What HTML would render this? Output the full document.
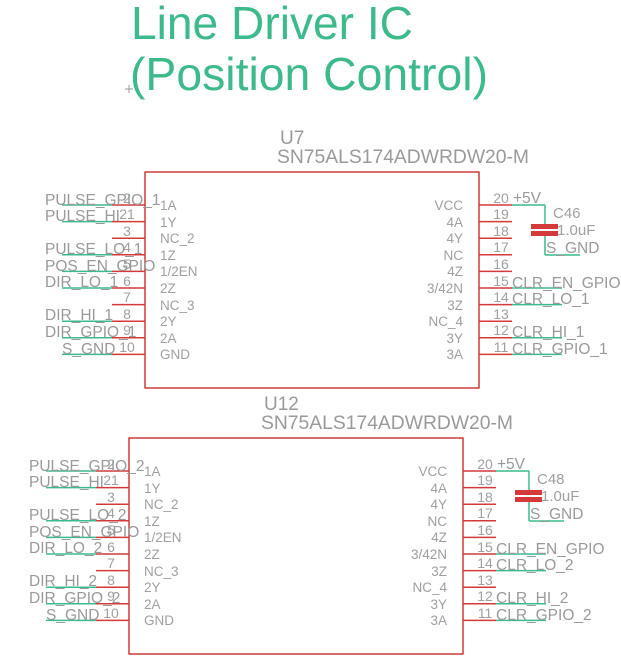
<!DOCTYPE html>
<html><head><meta charset="utf-8"><style>
html,body{margin:0;padding:0;background:#fff;}
svg{display:block;font-family:"Liberation Sans",sans-serif;}
.t{fill:#3dba8b;font-size:46px;}
.r{stroke:#d43a3a;stroke-width:1.5;fill:none;}
.n{stroke:#3dba8b;stroke-width:1.5;}
.pn{font-size:13.5px;fill:#a0a0a0;}
.num{font-size:14px;fill:#a0a0a0;}
.lb{font-size:15.5px;fill:#9a9a9a;}
.big{font-size:19px;fill:#9a9a9a;}
.cl{font-size:15px;fill:#a0a0a0;}
.c{stroke:#9a9a9a;stroke-width:1;}
</style></head><body>
<svg width="621" height="664" viewBox="0 0 621 664" xmlns="http://www.w3.org/2000/svg">
<text class="t" x="131" y="39" textLength="282" lengthAdjust="spacingAndGlyphs">Line Driver IC</text>
<text class="t" x="130" y="90" textLength="358" lengthAdjust="spacingAndGlyphs">(Position Control)</text>
<path class="c" d="M125 89h8M129 85v8"/>

<defs>
<g id="chip">
<rect class="r" x="145" y="172" width="334" height="216"/>
<g class="r">
<path d="M112 205h33M112 221.6h33M112 238.2h33M112 254.8h33M112 271.4h33M112 288h33M112 304.6h33M112 321.2h33M112 337.8h33M112 354.4h33"/>
<path d="M479 205h33M479 221.6h33M479 238.2h33M479 254.8h33M479 271.4h33M479 288h33M479 304.6h33M479 321.2h33M479 337.8h33M479 354.4h33"/>
</g>
<g class="n">
<path d="M62 205h50M62 221.6h50M62 254.8h50M62 271.4h50M62 288h50M62 321.2h50M62 337.8h50M62 354.4h50"/>
<path d="M512 205h33M545 205v20M545 235v20M545 255h35M512 288h50M512 304.6h50M512 337.8h50M512 354.4h50"/>
</g>
<rect x="531" y="224" width="27" height="5" fill="#d43a3a"/>
<rect x="531" y="231" width="27" height="5" fill="#d43a3a"/>
<g class="pn">
<text x="160" y="210">1A</text><text x="160" y="227">1Y</text><text x="160" y="243">NC_2</text><text x="160" y="260">1Z</text><text x="160" y="276">1/2EN</text><text x="160" y="293">2Z</text><text x="160" y="310">NC_3</text><text x="160" y="326">2Y</text><text x="160" y="343">2A</text><text x="160" y="359">GND</text>
<g text-anchor="end"><text x="463" y="210">VCC</text><text x="463" y="227">4A</text><text x="463" y="243">4Y</text><text x="463" y="260">NC</text><text x="463" y="276">4Z</text><text x="463" y="293">3/42N</text><text x="463" y="310">3Z</text><text x="463" y="326">NC_4</text><text x="463" y="343">3Y</text><text x="463" y="359">3A</text></g>
</g>
<g class="num" text-anchor="middle">
<text x="127" y="203">2</text><text x="127" y="219">21</text><text x="127" y="236">3</text><text x="127" y="252">4</text><text x="127" y="269">5</text><text x="127" y="286">6</text><text x="127" y="302">7</text><text x="127" y="319">8</text><text x="127" y="335">9</text><text x="127" y="352">10</text>
<text x="501" y="203">20</text><text x="501" y="219">19</text><text x="501" y="236">18</text><text x="501" y="252">17</text><text x="501" y="269">16</text><text x="501" y="286">15</text><text x="501" y="302">14</text><text x="501" y="319">13</text><text x="501" y="335">12</text><text x="501" y="352">11</text>
</g>
<text class="lb" x="513" y="203">+5V</text>
<text class="lb" x="546" y="253">S_GND</text>
<text class="cl" x="557" y="235">1.0uF</text>
</g>
</defs>

<use href="#chip"/>
<text class="cl" x="553" y="218">C46</text>
<g class="lb">
<text x="45" y="205">PULSE_GPIO_1</text>
<text x="45" y="221">PULSE_HI</text>
<text x="45" y="254">PULSE_LO_1</text>
<text x="45" y="271">POS_EN_GPIO</text>
<text x="45" y="287">DIR_LO_1</text>
<text x="45" y="320">DIR_HI_1</text>
<text x="45" y="337">DIR_GPIO_1</text>
<text x="62" y="354">S_GND</text>
<text x="512" y="288">CLR_EN_GPIO</text>
<text x="512" y="304">CLR_LO_1</text>
<text x="512" y="337">CLR_HI_1</text>
<text x="512" y="354">CLR_GPIO_1</text>
</g>
<text class="big" x="280" y="144">U7</text>
<text class="big" x="277" y="163" textLength="252" lengthAdjust="spacingAndGlyphs">SN75ALS174ADWRDW20-M</text>

<g transform="translate(-16,266)">
<use href="#chip"/>
<text class="cl" x="553" y="218">C48</text>
<g class="lb">
<text x="45" y="205">PULSE_GPIO_2</text>
<text x="45" y="221">PULSE_HI</text>
<text x="45" y="254">PULSE_LO_2</text>
<text x="45" y="271">POS_EN_GPIO</text>
<text x="45" y="287">DIR_LO_2</text>
<text x="45" y="320">DIR_HI_2</text>
<text x="45" y="337">DIR_GPIO_2</text>
<text x="62" y="354">S_GND</text>
<text x="512" y="288">CLR_EN_GPIO</text>
<text x="512" y="304">CLR_LO_2</text>
<text x="512" y="337">CLR_HI_2</text>
<text x="512" y="354">CLR_GPIO_2</text>
</g>
</g>
<text class="big" x="264" y="410">U12</text>
<text class="big" x="261" y="429" textLength="252" lengthAdjust="spacingAndGlyphs">SN75ALS174ADWRDW20-M</text>
</svg>
</body></html>
